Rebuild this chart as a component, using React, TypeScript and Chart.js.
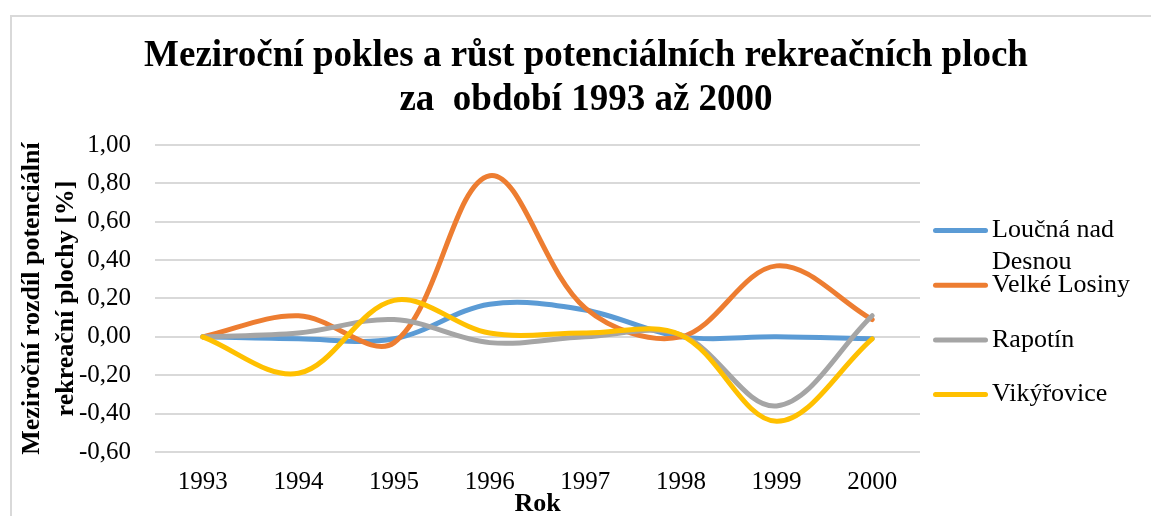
import React, { useEffect, useRef } from "react";
import { Chart, registerables } from "chart.js";

Chart.register(...registerables);

// ---- data ----
const years = ["1993", "1994", "1995", "1996", "1997", "1998", "1999", "2000"];
const loucnaNadDesnou = [0, -0.01, -0.01, 0.17, 0.14, 0.0, 0.0, -0.01];
const velkeLosiny = [0, 0.11, -0.03, 0.84, 0.15, 0.0, 0.37, 0.09];
const rapotin = [0, 0.02, 0.09, -0.03, 0.0, 0.01, -0.36, 0.11];
const vikyrovice = [0, -0.19, 0.19, 0.02, 0.02, 0.01, -0.44, -0.01];

const seriesLabels = ["Loučná nad Desnou", "Velké Losiny", "Rapotín", "Vikýřovice"];
const seriesColors = ["#5B9BD5", "#ED7D31", "#A5A5A5", "#FFC000"];

const titleLines = [
  "Meziroční pokles a růst potenciálních rekreačních ploch",
  "za  období 1993 až 2000",
];
const yTitleLines = ["Meziroční rozdíl potenciální", "rekreační plochy [%]"];
const xTitle = "Rok";
const yMin = -0.6;
const yMax = 1.0;
const yStep = 0.2;

const FONT = "'Liberation Serif', 'Times New Roman', serif";

function wrapText(ctx: CanvasRenderingContext2D, text: string, maxW: number): string[] {
  const words = text.split(" ");
  const lines: string[] = [];
  let cur = "";
  for (const w of words) {
    const test = cur ? cur + " " + w : w;
    if (cur && ctx.measureText(test).width > maxW) {
      lines.push(cur);
      cur = w;
    } else {
      cur = test;
    }
  }
  if (cur) lines.push(cur);
  return lines;
}

const sideLegend = {
  id: "sideLegend",
  afterDraw(chart: any) {
    const ctx: CanvasRenderingContext2D = chart.ctx;
    const x0 = 935.5;
    const x1 = 985.5;
    const tx = 992;
    const top = 230.5;
    const gap = 54.7;
    const lh = 31.4;
    ctx.save();
    ctx.font = `26px ${FONT}`;
    ctx.textBaseline = "middle";
    ctx.textAlign = "left";
    chart.data.datasets.forEach((ds: any, i: number) => {
      const y = top + i * gap;
      ctx.strokeStyle = ds.borderColor;
      ctx.lineWidth = 5;
      ctx.lineCap = "round";
      ctx.beginPath();
      ctx.moveTo(x0, y);
      ctx.lineTo(x1, y);
      ctx.stroke();
      ctx.fillStyle = "#000";
      const lines = wrapText(ctx, ds.label, 1151 - tx - 4);
      lines.forEach((l, j) => ctx.fillText(l, tx, y + j * lh));
    });
    ctx.restore();
  },
};

export default function App() {
  const ref = useRef<HTMLCanvasElement | null>(null);

  useEffect(() => {
    if (!ref.current) return;
    const seriesValues = [loucnaNadDesnou, velkeLosiny, rapotin, vikyrovice];
    const chart = new Chart(ref.current, {
      type: "line",
      data: {
        labels: years,
        datasets: seriesValues.map((vals, i) => ({
          label: seriesLabels[i],
          data: vals,
          borderColor: seriesColors[i],
          backgroundColor: seriesColors[i],
          borderWidth: 5,
          pointRadius: 0,
          pointHoverRadius: 0,
          tension: 0.35,
          borderCapStyle: "round" as const,
          borderJoinStyle: "round" as const,
          fill: false,
          order: seriesValues.length - i,
        })),
      },
      options: {
        responsive: false,
        animation: false,
        devicePixelRatio: 1,
        layout: { padding: { left: 21, right: 0, top: 0, bottom: 0 } },
        plugins: {
          legend: { display: false },
          tooltip: { enabled: false },
          title: {
            display: true,
            text: titleLines,
            color: "#000",
            font: { family: FONT, size: 37, weight: "bold", lineHeight: 1.17 },
            padding: { top: 35.2, bottom: 23.2 },
          },
        },
        scales: {
          x: {
            type: "category",
            offset: true,
            grid: { display: false, drawTicks: false },
            border: { display: false },
            ticks: {
              color: "#000",
              font: { family: FONT, size: 25, lineHeight: 1.2 },
              padding: 15,
              maxRotation: 0,
              autoSkip: false,
            },
            title: {
              display: true,
              text: xTitle,
              color: "#000",
              font: { family: FONT, size: 26, weight: "bold", lineHeight: 1.2 },
              padding: { top: 0, bottom: -4 },
            },
            afterFit(scale: any) {
              scale.height = 64;
            },
          },
          y: {
            type: "linear",
            position: "left",
            min: yMin,
            max: yMax,
            grid: { color: "#d9d9d9", lineWidth: 2, drawTicks: false },
            border: { display: false },
            ticks: {
              stepSize: yStep,
              color: "#000",
              font: { family: FONT, size: 25, lineHeight: 1.2 },
              padding: 24,
              callback: (v: any) => Number(v).toFixed(2).replace(".", ","),
            },
            title: {
              display: true,
              text: yTitleLines,
              color: "#000",
              font: { family: FONT, size: 26, weight: "bold", lineHeight: 1.31 },
              padding: { top: -6, bottom: 0 },
            },
            afterFit(scale: any) {
              scale.width = 134;
            },
          },
          yRight: {
            type: "linear",
            position: "right",
            display: true,
            grid: { display: false, drawOnChartArea: false, drawTicks: false },
            border: { display: false },
            ticks: { display: false },
            afterFit(scale: any) {
              scale.width = 231;
            },
          },
        },
      },
      plugins: [sideLegend],
    });
    return () => chart.destroy();
  }, []);

  return (
    <div
      style={{
        position: "fixed",
        left: 0,
        top: 0,
        width: 1151,
        height: 516,
        overflow: "hidden",
        background: "#fff",
      }}
    >
      <div
        style={{
          position: "absolute",
          left: 10,
          top: 15,
          width: 1300,
          height: 700,
          border: "2px solid #d9d9d9",
          boxSizing: "border-box",
        }}
      />
      <canvas
        ref={ref}
        width={1151}
        height={516}
        style={{ position: "absolute", left: 0, top: 0, width: 1151, height: 516 }}
      />
    </div>
  );
}
